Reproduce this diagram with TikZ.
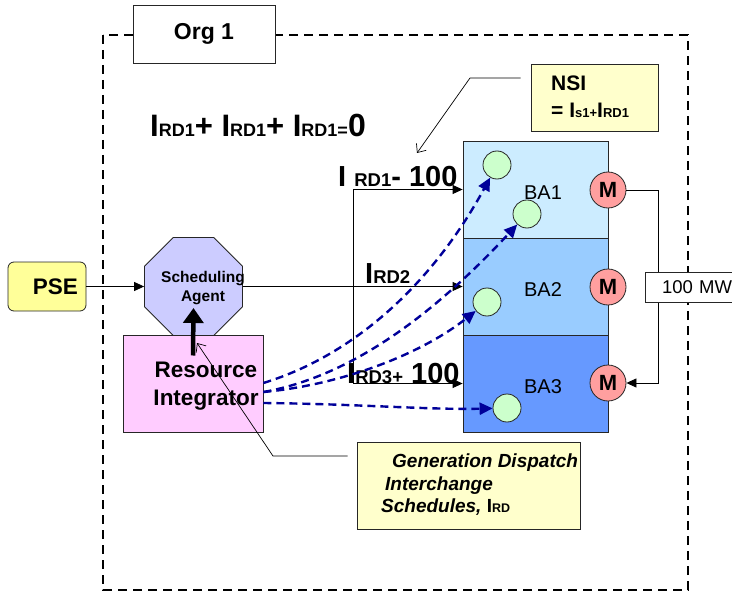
\documentclass[tikz,border=0pt]{standalone}
\usepackage{fontspec}
\setmainfont{Liberation Sans}
\usetikzlibrary{shapes.geometric, arrows.meta}

\definecolor{baone}{HTML}{CCECFF}
\definecolor{batwo}{HTML}{99CCFF}
\definecolor{bathree}{HTML}{6699FF}
\definecolor{motor}{HTML}{FF9F9F}
\definecolor{gen}{HTML}{CCFFCC}
\definecolor{agent}{HTML}{CCCCFF}
\definecolor{integ}{HTML}{FFCCFF}
\definecolor{pse}{HTML}{FFFF99}
\definecolor{note}{HTML}{FFFFCC}
\definecolor{navy}{HTML}{000099}

\newcommand{\fsz}[1]{\fontsize{#1}{#1}\selectfont}

\begin{document}
\begin{tikzpicture}[x=1pt, y=1pt, >={Triangle[length=10pt, width=9pt]}]
\tikzstyle{box} = [rectangle, draw=black!85, line width=0.8pt, inner sep=0pt]
\tikzstyle{ba} = [box, minimum width=145, minimum height=97]
\tikzstyle{gc} = [circle, draw=black!85, line width=0.8pt, fill=gen, minimum size=28, inner sep=0pt]
\tikzstyle{mc} = [circle, draw=black!85, line width=0.8pt, fill=motor, minimum size=36, inner sep=0pt, font=\bfseries\fsz{22}]
\tikzstyle{txt} = [inner sep=0pt]
\tikzstyle{link} = [draw=black, line width=0.8pt]
\tikzstyle{flow} = [draw=navy, line width=2.4pt, dash pattern=on 8pt off 5pt, -{Triangle[length=13pt, width=12pt]}]
\tikzstyle{callout} = [draw=black, line width=0.7pt, -{Straight Barb[length=7pt, width=12pt, line width=0.7pt]}]

\useasboundingbox (0,0) rectangle (732,-594);

% organisation frame
\draw[line width=2.5pt, dash pattern=on 9pt off 6pt] (103,-35) rectangle (688,-590);
\node[box, fill=white, minimum width=142, minimum height=58, font=\bfseries\fsz{23}] (org) at (204,-34) {Org 1};

\node[txt, anchor=base west, font=\bfseries] (sum) at (150,-137)
  {\fsz{31}I\fsz{18}RD1\fsz{31}+ I\fsz{18}RD1\fsz{31}+ I\fsz{18}RD1=\fsz{32}0};

% net schedule note
\node[box, fill=note, minimum width=127, minimum height=67] (nsi) at (594.5,-97.5) {};
\node[txt, anchor=west, align=left, font=\bfseries\fontsize{21}{27}\selectfont] (nsitext) at (551,-97)
  {NSI\\= I{\fsz{13}s1+}I{\fsz{13}RD1}};
\coordinate (nsibend) at (470,-78);
\coordinate (nsitip) at (417,-153);
\draw[callout, shorten <=10pt] (nsi.west |- nsibend) -- (nsibend) -- (nsitip);

% balancing areas
\node[ba, fill=baone] (ba1) at (535.5,-189.5) {};
\node[ba, fill=batwo] (ba2) at (535.5,-286.5) {};
\node[ba, fill=bathree] (ba3) at (535.5,-383.5) {};
\node[txt, font=\fsz{20}] (ba1name) at (543,-193) {BA1};
\node[txt, font=\fsz{20}] (ba2name) at (543,-290) {BA2};
\node[txt, font=\fsz{20}] (ba3name) at (543,-387) {BA3};

\node[gc] (g1) at (497,-165) {};
\node[gc] (g2) at (527,-214) {};
\node[gc] (g3) at (487,-302) {};
\node[gc] (g4) at (507,-408) {};

\node[mc] (m1) at (608,-190) {M};
\node[mc] (m2) at (608,-287) {M};
\node[mc] (m3) at (608,-383) {M};

\coordinate (tie) at (658,-190);
\draw[link, ->] (m1) -- (tie) |- (m3);
\node[box, fill=white, minimum height=30, text width=86, inner xsep=1pt, align=right, font=\fsz{18.5}] (mw) at (689,-287) {100 MW};

% agent and integrator
\node[box, rounded corners=6pt, fill=pse, minimum width=78, minimum height=49, text width=62, inner xsep=8pt, align=right, font=\bfseries\fsz{22.5}] (pse) at (47,-286.5) {PSE};
\node[regular polygon, regular polygon sides=8, draw=black!85, line width=0.8pt, fill=agent, minimum size=106, inner sep=0pt] (sa) at (193.5,-286.5) {};
\node[txt, align=center, font=\bfseries\fontsize{15.5}{19}\selectfont] (satext) at (203,-288) {Scheduling\\Agent};
\node[box, fill=integ, minimum width=140, minimum height=97] (ri) at (193,-383.5) {};
\node[txt, align=center, font=\bfseries\fontsize{22.5}{28}\selectfont] (ritext) at (206,-386) {Resource\\Integrator};

\draw[line width=4.5pt, -{Triangle[length=15pt, width=20pt]}] ([yshift=28pt]ri.center) -- ([yshift=-21.5pt]sa.center);
\draw[link, ->] (pse.east) -- (sa.west);
\draw[link, ->] (sa.east) -- (ba2.west);

% interchange bracket
\coordinate (bt) at (353,-189.5);
\coordinate (bb) at (353,-383.5);
\draw[link] (bt) -- (bb);
\draw[link, ->] (bt) -- (ba1.west);
\draw[link, ->] (bb) -- (ba3.west);

\node[txt, anchor=base west, font=\bfseries] (ird1) at (338,-186) {\fsz{29}I\ \fsz{18.5}RD1\fsz{29}-\ 100};
\node[txt, anchor=base west, font=\bfseries] (ird2) at (365,-283) {\fsz{29}I\fsz{18.5}RD2};
\node[txt, anchor=base west, font=\bfseries] (ird3) at (347,-383) {\fsz{29}I\fsz{18.5}RD3+\fsz{29}\ 100};

% dispatch flows
\draw[flow] ([yshift=0.5pt]ri.east) .. controls (358.6,-353.8) and (435.3,-278.5) .. (g1);
\draw[flow] ([yshift=-8.5pt]ri.east) .. controls (361.5,-374.6) and (447,-300) .. (g2);
\draw[flow] ([yshift=-8.5pt]ri.east) .. controls (340,-385) and (420,-355) .. (g3);
\draw[flow] ([yshift=-19.5pt]ri.east) .. controls (360,-404) and (430,-410) .. (g4);

% dispatch note
\node[box, fill=note, minimum width=223, minimum height=87] (gd) at (468.5,-485.5) {};
\node[txt, anchor=west, align=left, font=\bfseries\itshape\fontsize{19}{22.5}\selectfont] (gdtext) at (381,-485)
  {\hspace*{11pt}Generation Dispatch\\\hspace*{4pt}Interchange\\Schedules, {\upshape I\fsz{12.5}RD}};
\coordinate (gdbend) at (273,-456);
\coordinate (gdtip) at (197,-343);
\draw[callout, shorten <=9pt] (gd.west |- gdbend) -- (gdbend) -- (gdtip);
\end{tikzpicture}
\end{document}
